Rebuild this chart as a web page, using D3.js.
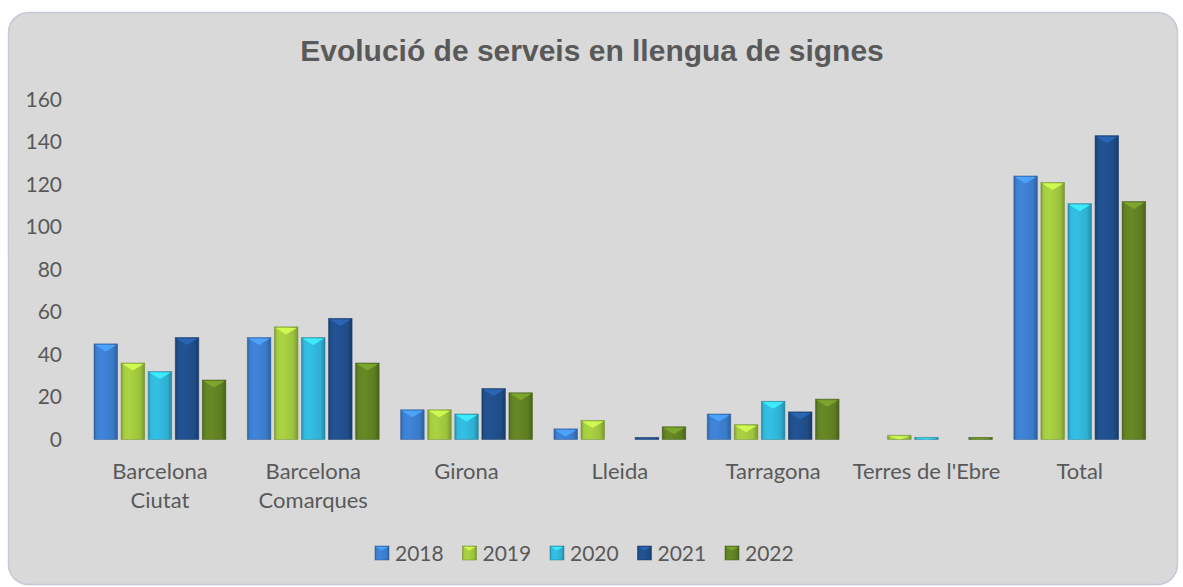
<!DOCTYPE html>
<html>
<head>
<meta charset="utf-8">
<script src="https://cdn.jsdelivr.net/npm/d3@7"></script>
<style>
  body { margin: 0; background: #fff; }
  svg { display: block; }
</style>
</head>
<body>
<script>
  const categories = [
    ['Barcelona', 'Ciutat'],
    ['Barcelona', 'Comarques'],
    ['Girona'],
    ['Lleida'],
    ['Tarragona'],
    ["Terres de l'Ebre"],
    ['Total']
  ];

  const years = ['2018', '2019', '2020', '2021', '2022'];

  const values2018 = [45, 48, 14, 5, 12, 0, 124];
  const values2019 = [36, 53, 14, 9, 7, 2, 121];
  const values2020 = [32, 48, 12, 0, 18, 1, 111];
  const values2021 = [48, 57, 24, 1, 13, 0, 143];
  const values2022 = [28, 36, 22, 6, 19, 1, 112];

  const yTicks = [0, 20, 40, 60, 80, 100, 120, 140, 160];

  const series = [values2018, values2019, values2020, values2021, values2022];

  const colors = ['#3a7ac8', '#9cc23d', '#2fb0d2', '#1f4c87', '#5e7d22'];

  const width = 1183;
  const height = 587;
  const textColor = '#595959';
  const font = 'Lato, "Open Sans", sans-serif';

  const svg = d3.select('body')
    .append('svg')
    .attr('width', width)
    .attr('height', height);

  const defs = svg.append('defs');

  colors.forEach((c, i) => {
    const base = d3.color(c);
    const g = defs.append('linearGradient')
      .attr('id', 'grad_' + i)
      .attr('x1', '0%').attr('x2', '100%')
      .attr('y1', '0%').attr('y2', '0%');
    g.append('stop').attr('offset', '0%').attr('stop-color', base.darker(0.6));
    g.append('stop').attr('offset', '12%').attr('stop-color', base.brighter(0.15));
    g.append('stop').attr('offset', '35%').attr('stop-color', base.brighter(0.25));
    g.append('stop').attr('offset', '80%').attr('stop-color', base);
    g.append('stop').attr('offset', '100%').attr('stop-color', base.darker(0.7));
  });

  // chart panel
  svg.append('rect')
    .attr('x', 8.5)
    .attr('y', 12.5)
    .attr('width', 1169)
    .attr('height', 572)
    .attr('rx', 20)
    .attr('fill', '#d9d9d9')
    .attr('stroke', '#c3cad6')
    .attr('stroke-width', 1.5);

  const x0 = d3.scaleBand()
    .domain(d3.range(categories.length))
    .range([83.3, 1156.4])
    .paddingInner(0.14)
    .paddingOuter(0.07);

  const x1 = d3.scaleBand()
    .domain(years)
    .range([0, x0.bandwidth()])
    .paddingInner(0.13);

  const y = d3.scaleLinear()
    .domain([0, 160])
    .range([439.5, 99.5]);

  // title
  svg.append('text')
    .attr('x', 592)
    .attr('y', 61)
    .attr('text-anchor', 'middle')
    .attr('font-family', 'Arial, "Liberation Sans", sans-serif')
    .attr('font-weight', 'bold')
    .attr('font-size', 30)
    .attr('fill', textColor)
    .text('Evolució de serveis en llengua de signes');

  // y axis labels
  const yAxis = svg.append('g')
    .attr('transform', 'translate(62,0)')
    .call(d3.axisLeft(y).tickValues(yTicks).tickSize(0).tickPadding(0));
  yAxis.select('.domain').remove();
  yAxis.selectAll('text')
    .attr('font-family', font)
    .attr('font-size', 21)
    .attr('fill', textColor);

  // x labels
  const xLabels = svg.append('g')
    .selectAll('text')
    .data(categories)
    .join('text')
    .attr('x', (d, i) => x0(i) + x0.bandwidth() / 2)
    .attr('y', 479)
    .attr('text-anchor', 'middle')
    .attr('font-family', font)
    .attr('font-size', 22)
    .attr('fill', textColor);
  xLabels.selectAll('tspan')
    .data(d => d)
    .join('tspan')
    .attr('x', function() { return this.parentNode.getAttribute('x'); })
    .attr('dy', (d, i) => i === 0 ? 0 : 29)
    .text(d => d);

  function bevelBar(g, bx, by, bw, bh, i) {
    const base = d3.color(colors[i]);
    g.append('rect')
      .attr('x', bx).attr('y', by)
      .attr('width', bw).attr('height', bh)
      .attr('fill', `url(#grad_${i})`)
      .attr('stroke', base.darker(0.9))
      .attr('stroke-opacity', 0.6)
      .attr('stroke-width', 0.8);
    const tri = Math.min(bw * 0.32, bh);
    if (bh > 2) {
      g.append('path')
        .attr('d', `M${bx + 1},${by + 1}L${bx + bw - 1},${by + 1}L${bx + bw / 2},${by + tri}Z`)
        .attr('fill', base.brighter(0.9))
        .attr('opacity', 0.85);
    }
  }

  // bars
  const groups = svg.append('g')
    .selectAll('g')
    .data(categories)
    .join('g')
    .attr('transform', (d, i) => `translate(${x0(i)},0)`);

  groups.each(function(d, ci) {
    const g = d3.select(this);
    series.forEach((vals, si) => {
      const v = vals[ci];
      if (!v) return;
      const top = y(v);
      bevelBar(g, x1(years[si]), top, x1.bandwidth(), y(0) - top, si);
    });
  });

  // legend
  const legend = svg.append('g')
    .selectAll('g')
    .data(years)
    .join('g')
    .attr('transform', (d, i) => `translate(${375 + i * 87.5},546)`);

  legend.each(function(d, i) {
    bevelBar(d3.select(this), 0, 0, 14, 14, i);
  });

  legend.append('text')
    .attr('x', 20)
    .attr('y', 14.5)
    .attr('font-family', font)
    .attr('font-size', 21)
    .attr('fill', textColor)
    .text(d => d);
</script>
</body>
</html>
